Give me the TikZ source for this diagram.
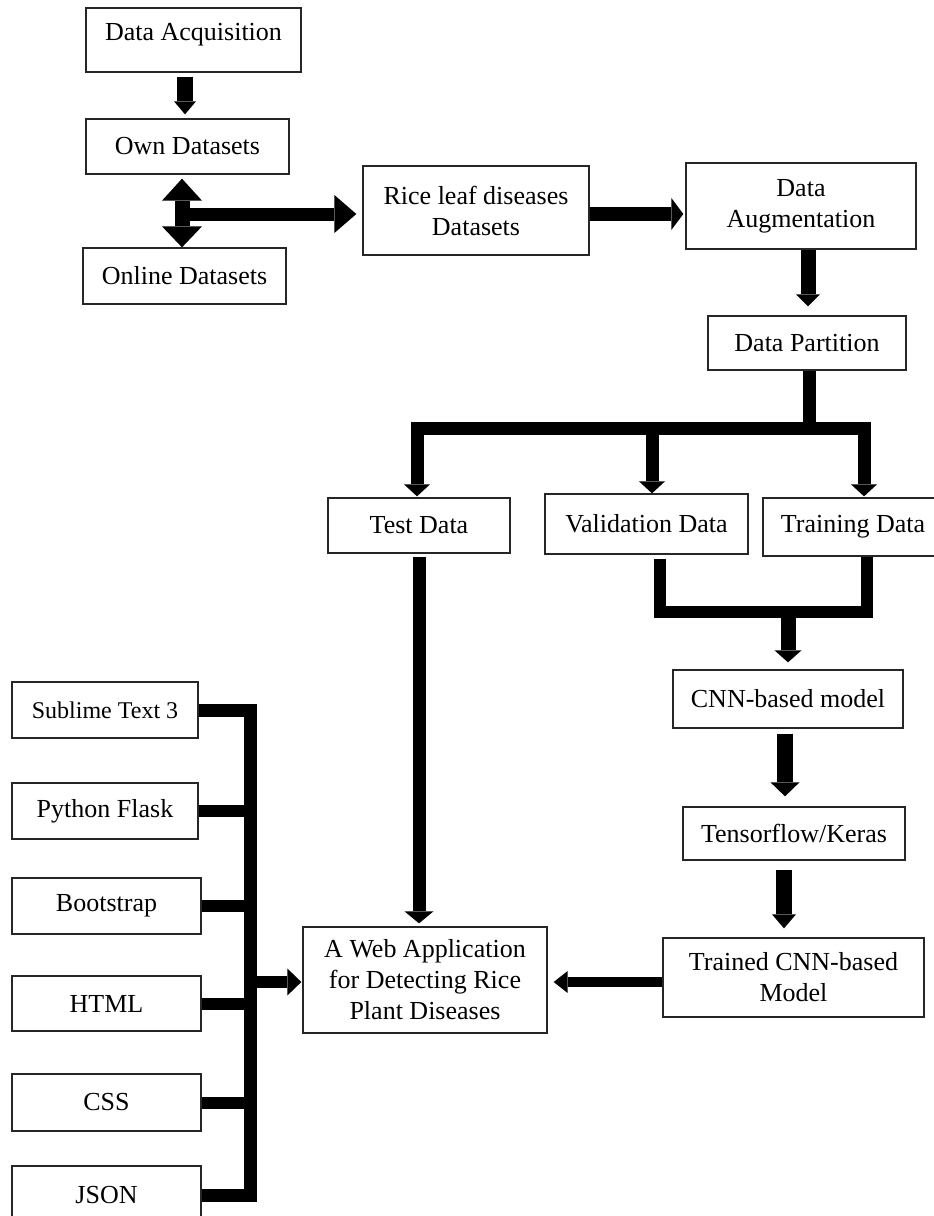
\documentclass[tikz,border=0pt]{standalone}
\usepackage{fontspec}
\setmainfont{Liberation Serif}
\usepackage{tikz}
\usetikzlibrary{arrows.meta, calc}

\tikzset{
  box/.style={rectangle, draw=black!85, line width=1.3pt, fill=white, align=center, inner sep=2pt, font=\fontsize{26}{31}\selectfont},
  flow/.style={line width=14pt, -{Triangle[length=12pt, width=26pt, line width=0pt]}},
  bus/.style={line width=13pt}
}

\begin{document}
\begin{tikzpicture}[x=1pt, y=-1pt]
  \fill[white] (0,0) rectangle (934,1216);
  \useasboundingbox (0,0) rectangle (934,1216);
  \clip (0,0) rectangle (934,1216);

  % acquisition
  \node[box, minimum width=215pt, minimum height=64pt, text depth=17pt] (acq) at (193.5,40) {Data Acquisition};
  \node[box, minimum width=203pt, minimum height=55pt] (own) at (187.5,146.5) {Own Datasets};
  \node[box, minimum width=203pt, minimum height=56pt] (online) at (184.5,276) {Online Datasets};
  \node[box, minimum width=226pt, minimum height=89pt] (rice) at (476,210.5) {Rice leaf diseases\\Datasets};
  \node[box, minimum width=230pt, minimum height=86pt] (aug) at (801,206) {Data\\Augmentation};
  \node[box, minimum width=198pt, minimum height=54pt] (part) at (807,343) {Data Partition};

  % partitions
  \node[box, minimum width=182pt, minimum height=55pt] (test) at (419,525.5) {Test Data};
  \node[box, minimum width=203pt, minimum height=60pt] (val) at (646.5,524) {Validation Data};
  \node[box, minimum width=180pt, minimum height=58pt] (train) at (853,527) {Training Data};

  % model
  \node[box, minimum width=230pt, minimum height=58pt] (cnn) at (788,699) {CNN-based model};
  \node[box, minimum width=222pt, minimum height=53pt] (tf) at (794,833.5) {Tensorflow/Keras};
  \node[box, minimum width=261pt, minimum height=79pt] (trained) at (793.5,977.5) {Trained CNN-based\\Model};
  \node[box, minimum width=244pt, minimum height=106pt] (web) at (425,980) {A Web Application\\for Detecting Rice\\Plant Diseases};

  % tools
  \node[box, minimum width=186pt, minimum height=56pt, font=\fontsize{24}{28}\selectfont] (sublime) at (105,710) {Sublime Text 3};
  \node[box, minimum width=186pt, minimum height=56pt] (python) at (105,811) {Python Flask};
  \node[box, minimum width=189pt, minimum height=56pt] (boot) at (106.5,906) {Bootstrap};
  \node[box, minimum width=189pt, minimum height=55pt] (html) at (106.5,1003.5) {HTML};
  \node[box, minimum width=189pt, minimum height=57pt] (css) at (106.5,1102.5) {CSS};
  \node[box, minimum width=189pt, minimum height=58pt] (json) at (106.5,1195) {JSON};

  \coordinate (hub) at (182,214);
  \coordinate (split) at (809,428);
  \coordinate (merge) at (788,612);
  \coordinate (bus) at (250,982);

  % top part
  \draw[flow, line width=16pt, -{Triangle[length=13pt, width=22pt, line width=0pt]}, shorten <=4pt, shorten >=4pt] ([xshift=-8.5pt]acq.south) -- ([xshift=-2.5pt]own.north);
  \draw[line width=15pt, {Triangle[length=22pt, width=40pt, line width=0pt]}-{Triangle[length=21pt, width=40pt, line width=0pt]}, shorten <=4pt] ([xshift=-5.5pt]own.south) -- ([xshift=-2.5pt]online.north);
  \draw[flow, line width=13pt, -{Triangle[length=22pt, width=38pt, line width=0pt]}, shorten >=6pt] (hub) -- (hub -| rice.west);
  \draw[flow, line width=14pt, -{Triangle[length=12pt, width=32pt, line width=0pt]}, shorten >=2pt] (rice.east |- hub) -- (aug.west |- hub);
  \draw[flow, line width=15pt, -{Triangle[length=12pt, width=24pt, line width=0pt]}, shorten >=9pt] (aug.south -| 808,0) -- (part.north -| 808,0);

  % split
  \draw[flow, line width=13pt, shorten >=1pt] (part.south -| split) -- (split) -| ([xshift=-2pt]test.north);
  \draw[flow, line width=13pt] (split) -| ([xshift=5.5pt]val.north);
  \draw[flow, line width=13pt, shorten >=1pt] (split) -| ([xshift=11pt]train.north);

  % merge
  \draw[bus, line width=12pt, shorten <=4pt] ([xshift=13.5pt]val.south) |- ([xshift=14pt]train.south |- merge) -- ([xshift=14pt]train.south);
  \draw[flow, line width=15pt, -{Triangle[length=12pt, width=27pt, line width=0pt]}, shorten >=7pt] (merge) -- (cnn.north);
  \draw[flow, line width=16pt, -{Triangle[length=14pt, width=29pt, line width=0pt]}, shorten <=5pt, shorten >=10pt] ([xshift=-3pt]cnn.south) -- ([xshift=-9pt]tf.north);
  \draw[flow, line width=16pt, -{Triangle[length=14pt, width=24pt, line width=0pt]}, shorten <=9pt, shorten >=9pt] ([xshift=-10pt]tf.south) -- ([xshift=-9.5pt]trained.north);

  % into the web application
  \draw[flow, line width=13pt, -{Triangle[length=12pt, width=29pt, line width=0pt]}, shorten <=3pt, shorten >=3pt] (test.south) -- (web.north -| test.south);
  \draw[flow, line width=10pt, -{Triangle[length=14pt, width=22pt, line width=0pt]}, shorten >=6pt] (trained.west |- bus) -- (web.east |- bus);

  % tools bus
  \draw[bus] (sublime.east) -| (bus) |- (json.east);
  \foreach \n in {python, boot, html, css}
    \draw[bus, line width=12pt] (\n.east) -- (\n.east -| bus);
  \draw[flow, line width=12pt, -{Triangle[length=14pt, width=27pt, line width=0pt]}, shorten >=1pt] (bus) -- (web.west |- bus);
\end{tikzpicture}
\end{document}
